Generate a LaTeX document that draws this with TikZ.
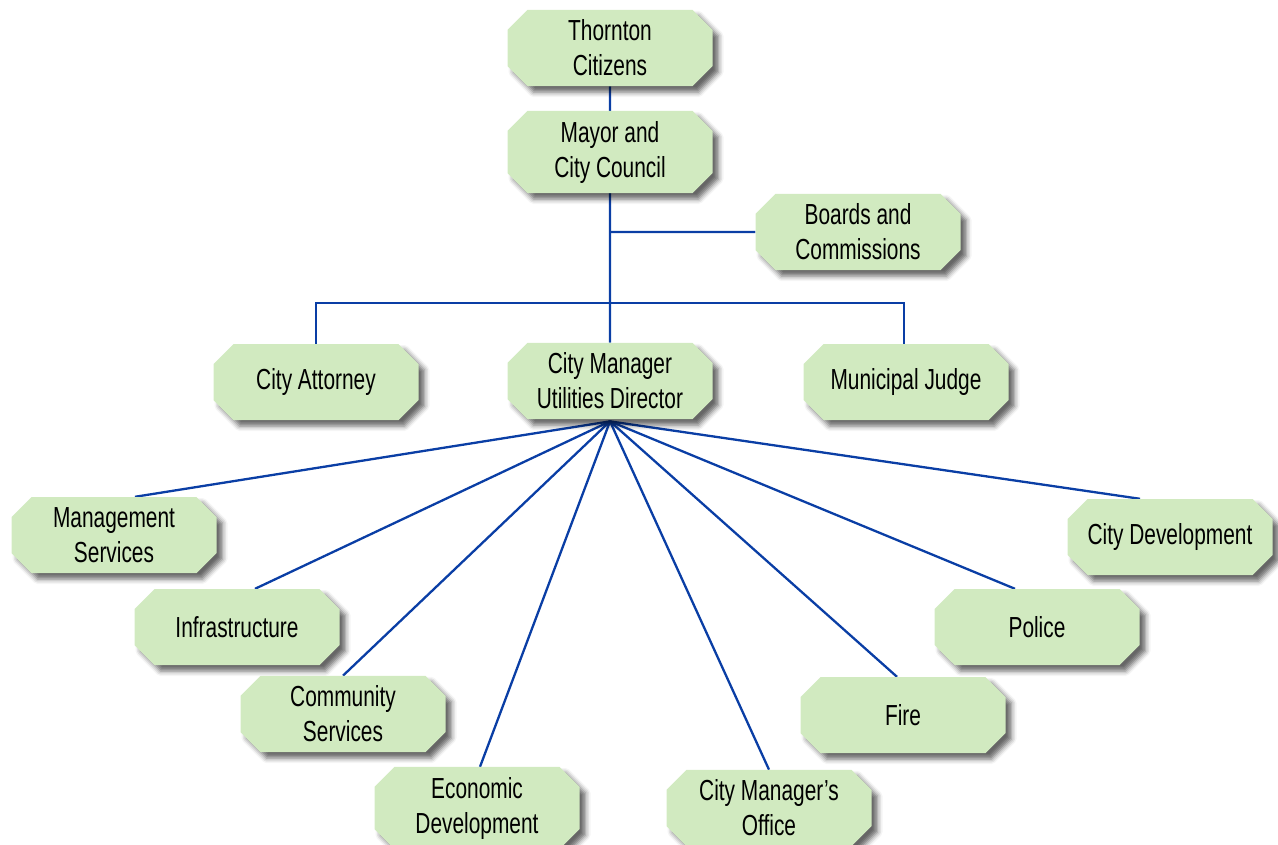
\documentclass[tikz,border=0pt]{standalone}
\usepackage{fontspec}
\setmainfont{Liberation Sans}[FakeStretch=0.72]
\usepackage{tikz}
\usetikzlibrary{shapes.misc}
\usetikzlibrary{shadows.blur}
\usetikzlibrary{backgrounds}
\definecolor{boxgreen}{HTML}{D1EAC0}
\definecolor{lineblue}{HTML}{0A3EA5}
\tikzset{
	office/.style={chamfered rectangle, chamfered rectangle xsep=10pt, chamfered rectangle ysep=10pt,
		fill=boxgreen, minimum width=205pt, minimum height=76pt, inner sep=0pt, align=center,
		font=\fontsize{29}{35}\selectfont,
		blur shadow={shadow xshift=6pt, shadow yshift=-6pt, shadow blur radius=5pt, shadow opacity=60}},
	link/.style={draw=lineblue, line width=2.3pt}
}

\begin{document}
\begin{tikzpicture}[x=1pt, y=-1pt]

	% Page frame
	\useasboundingbox (0,0) rectangle (1278,844);

	% Offices of the upper part
	\node [office] (citizens) at (610,48) {Thornton\\Citizens};
	\node [office] (council) at (610,152) {Mayor and\\City Council};
	\node [office] (boards) at (858,232) {Boards and\\Commissions};
	\node [office] (attorney) at (316,382) {City Attorney};
	\node [office] (manager) at (610,381) {City Manager\\Utilities Director};
	\node [office] (judge) at (906,382) {Municipal Judge};

	% Departments
	\node [office] (mgmt) at (114,535) {Management\\Services};
	\node [office] (infra) at (237,627) {Infrastructure};
	\node [office] (community) at (343,714) {Community\\Services};
	\node [office] (economic) at (477,808) {Economic\\Development};
	\node [office] (cmo) at (769,808) {City Manager's\\Office};
	\node [office] (fire) at (903,715) {Fire};
	\node [office] (police) at (1037,627) {Police};
	\node [office] (citydev) at (1170,537) {City Development};

	% Connectors, behind the boxes
	\begin{scope}[on background layer]
		\coordinate (bar) at (610,303);
		\draw [link] (citizens) -- (council);
		\draw [link] (council) -- (manager);
		\draw [link] (council |- boards) -- (boards);
		\draw [link] (attorney) |- (bar) -| ([xshift=-2pt]judge.center);
		\foreach \dept/\shift in {mgmt/21, infra/18, community/0, economic/3, cmo/0, fire/-6, police/-22, citydev/-30}
			\draw [link] ([yshift=-2pt]manager.south) -- ([xshift=\shift pt]\dept.north);
	\end{scope}

\end{tikzpicture}
\end{document}
